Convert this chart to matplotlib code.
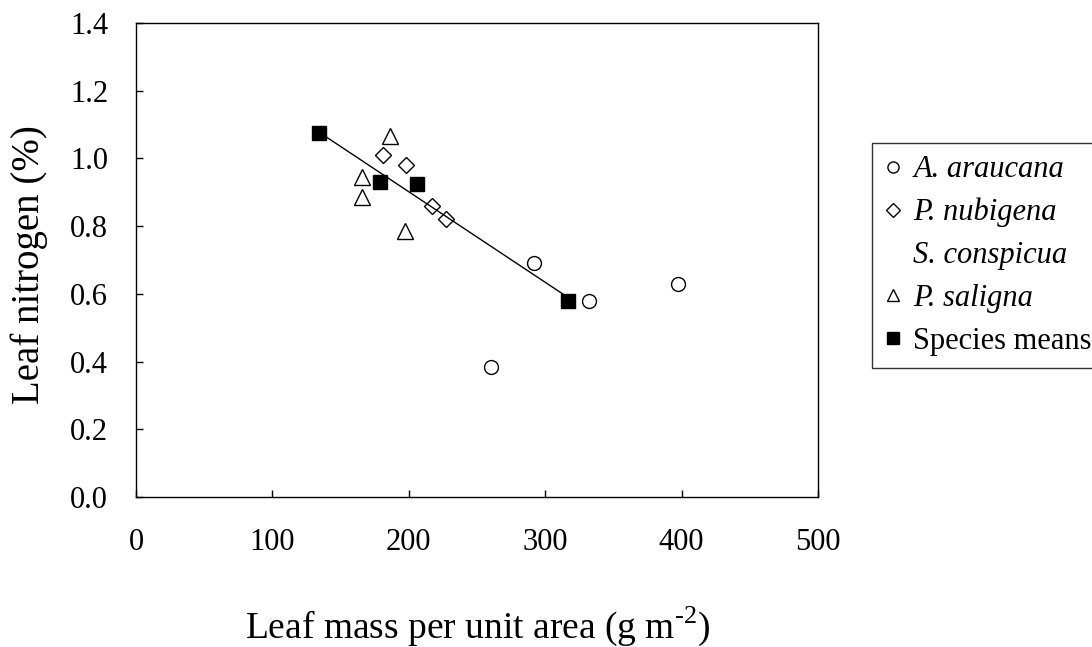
import matplotlib
matplotlib.use("Agg")
import matplotlib.pyplot as plt
from matplotlib.lines import Line2D
import numpy as np

plt.rcParams['font.family'] = ['Liberation Serif', 'DejaVu Serif']
plt.rcParams['mathtext.fontset'] = 'custom'
plt.rcParams['mathtext.rm'] = 'Liberation Serif'

# Data
araucana_x = [292, 332, 260, 397]
araucana_y = [0.69, 0.58, 0.385, 0.63]
nubigena_x = [181, 198, 217, 227]
nubigena_y = [1.01, 0.98, 0.86, 0.82]
saligna_x = [186, 166, 166, 197]
saligna_y = [1.065, 0.945, 0.885, 0.785]
means_x = [134, 179, 206, 317]
means_y = [1.075, 0.93, 0.925, 0.58]

xticks = [0, 100, 200, 300, 400, 500]
yticks = [0.0, 0.2, 0.4, 0.6, 0.8, 1.0, 1.2, 1.4]

fig = plt.figure(figsize=(10.92, 6.47), dpi=100)
ax = fig.add_axes([136/1092, 150/647, 682/1092, 474/647])

mk = dict(linestyle='none', markersize=10, markeredgewidth=1.0, markeredgecolor='black')
ax.plot(araucana_x, araucana_y, marker='o', markerfacecolor='white', **mk)
ax.plot(nubigena_x, nubigena_y, marker='D', markerfacecolor='white', **dict(mk, markersize=8))
ax.plot(saligna_x, saligna_y, marker='^', markerfacecolor='white', **dict(mk, markersize=11))

coef = np.polyfit(means_x, means_y, 1)
lx = np.array([min(means_x), max(means_x)])
ax.plot(lx, np.polyval(coef, lx), color='black', linewidth=1.0)
ax.plot(means_x, means_y, marker='s', markerfacecolor='black', **mk)

ax.set_xlim(0, 500)
ax.set_ylim(0, 1.4)
ax.set_xticks(xticks)
ax.set_yticks(yticks)
ax.set_xticklabels([str(v) for v in xticks])
ax.set_yticklabels([f"{v:.1f}" for v in yticks])
ax.tick_params(direction='in', length=5, width=1, labelsize=22)
ax.tick_params(axis='y', pad=20)
ax.tick_params(axis='x', pad=22)
for s in ax.spines.values():
    s.set_linewidth(1.0)

fig.text(29/1092, 1 - 265/647, 'Leaf nitrogen (%)', rotation=90, ha='center', va='center', fontsize=28)
fig.text(478/1092, 1 - 638/647, r'Leaf mass per unit area (g m$^{\text{-2}}$)', ha='center', va='baseline', fontsize=27)

handles = [
    Line2D([], [], linestyle='none', marker='o', markerfacecolor='white', markeredgecolor='black', markersize=8),
    Line2D([], [], linestyle='none', marker='D', markerfacecolor='white', markeredgecolor='black', markersize=7),
    Line2D([], [], linestyle='none', marker='none'),
    Line2D([], [], linestyle='none', marker='^', markerfacecolor='white', markeredgecolor='black', markersize=9),
    Line2D([], [], linestyle='none', marker='s', markerfacecolor='black', markeredgecolor='black', markersize=8),
]
labels = ['A. araucana', 'P. nubigena', 'S. conspicua', 'P. saligna', 'Species means']
leg = fig.legend(handles, labels, loc='upper left', bbox_to_anchor=(872/1092, 1 - 143/647),
                 frameon=True, fancybox=False, edgecolor='black', fontsize=22,
                 handlelength=0.6, handletextpad=0.35, borderpad=0.4, labelspacing=0.45,
                 borderaxespad=0)
leg.get_frame().set_linewidth(1.0)
for t in leg.get_texts()[:4]:
    t.set_fontstyle('italic')

fig.savefig('out.png', dpi=100)
